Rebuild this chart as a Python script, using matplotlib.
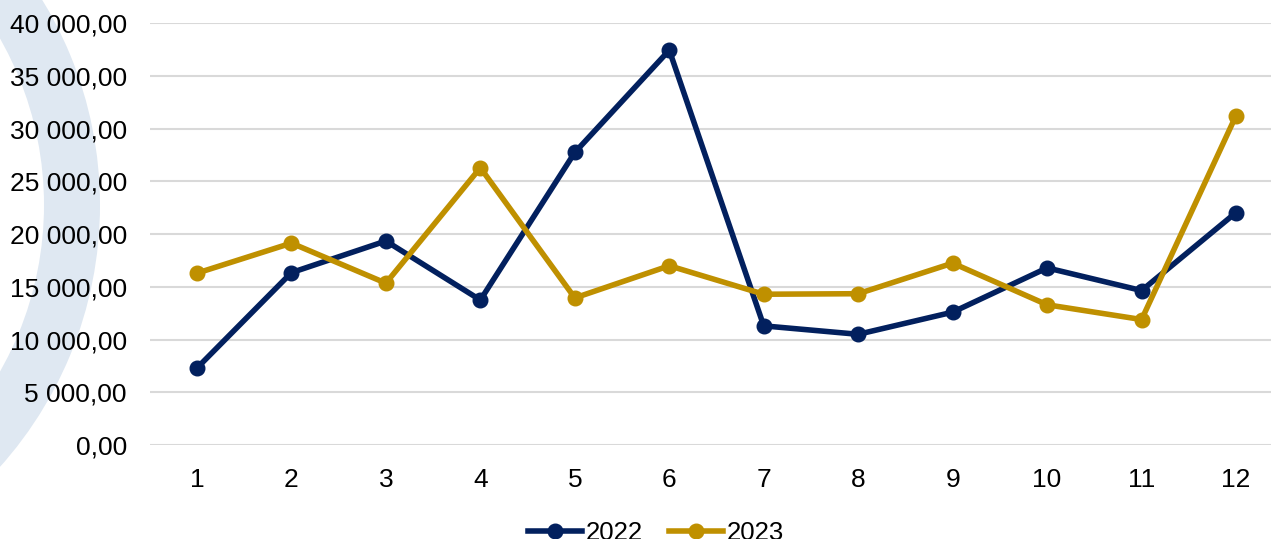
import matplotlib
matplotlib.use("Agg")
import matplotlib.pyplot as plt
from matplotlib.patches import Wedge
from matplotlib.transforms import IdentityTransform
from matplotlib.ticker import FuncFormatter, MultipleLocator

months = [1, 2, 3, 4, 5, 6, 7, 8, 9, 10, 11, 12]
values_2022 = [7300, 16350, 19350, 13750, 27750, 37450, 11300, 10500, 12600, 16800, 14650, 22050]
values_2023 = [16300, 19150, 15350, 26300, 13950, 17000, 14300, 14350, 17250, 13300, 11900, 31250]
series_names = ["2022", "2023"]

navy = "#02205e"
gold = "#bf9000"

plt.rcParams['font.family'] = ['Liberation Sans', 'DejaVu Sans']

fig = plt.figure(figsize=(12.71, 5.39), dpi=100)

# light watermark arc on the left, in pixel coordinates
arc = Wedge((-293, 539 - 205), 393, 0, 360, width=56, transform=IdentityTransform(),
            facecolor="#dfe8f2", edgecolor="none", zorder=-5)
fig.patches.append(arc)

ax = fig.add_axes([0.1184, 0.1744, 0.8816, 0.7824])
ax.patch.set_alpha(0)

ax.plot(months, values_2022, color=navy, lw=4, marker='o', ms=10.5, label=series_names[0],
        solid_joinstyle='round', zorder=3)
ax.plot(months, values_2023, color=gold, lw=4, marker='o', ms=10.5, label=series_names[1],
        solid_joinstyle='round', zorder=3)

ax.set_xlim(0.508, 12.37)
ax.set_ylim(0, 40000)
ax.set_xticks(months)
ax.yaxis.set_major_locator(MultipleLocator(5000))

def fmt(v, pos):
    s = "{:,.2f}".format(v)
    return s.replace(",", " ").replace(".", ",")

ax.yaxis.set_major_formatter(FuncFormatter(fmt))
ax.grid(axis='y', color="#d9d9d9", lw=1.5)
ax.set_axisbelow(True)
for sp in ax.spines.values():
    sp.set_visible(False)
ax.tick_params(axis='both', length=0, labelsize=19, colors="#000000")
ax.tick_params(axis='y', pad=17)
ax.tick_params(axis='x', pad=16.5)

fig.legend(loc='center', bbox_to_anchor=(0.516, 0.012), ncol=2, frameon=False,
           fontsize=18.5, handlelength=2.1, handletextpad=0.15, columnspacing=1.0)

fig.savefig("out.png", dpi=100)
